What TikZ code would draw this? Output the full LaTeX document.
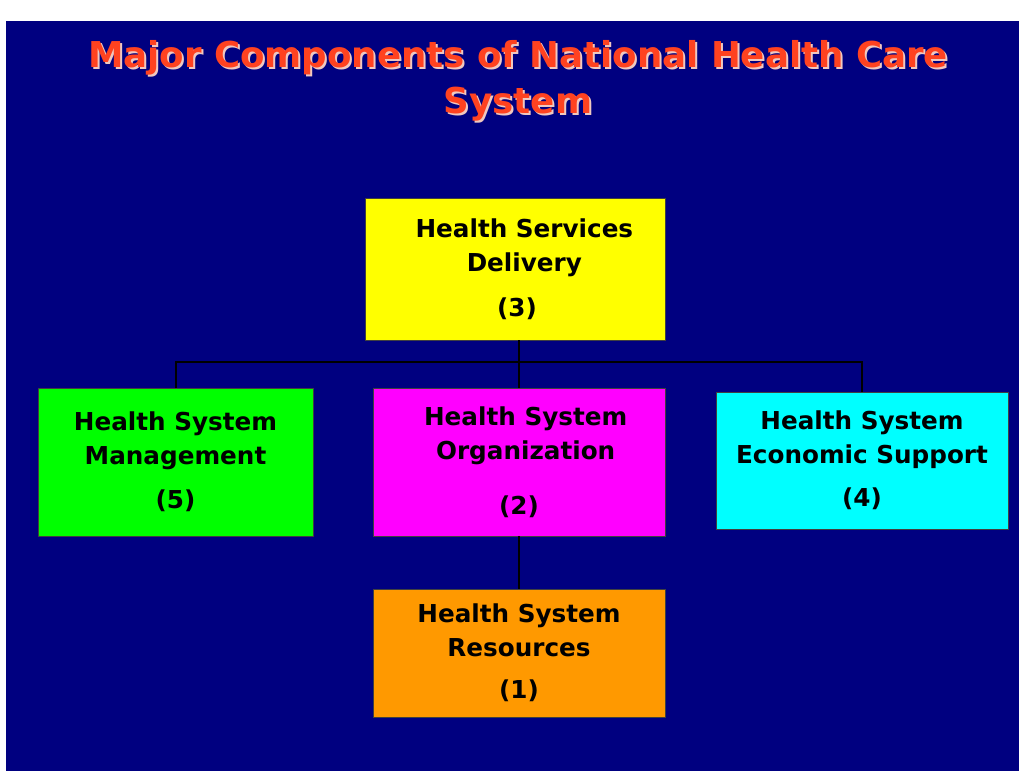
\documentclass[tikz,border=0pt]{standalone}
\usepackage{fontspec}
\setmainfont{DejaVu Sans}
\usepackage{xcolor}
\usepackage{tikz}
\usetikzlibrary{calc}
\definecolor{slidebg}{HTML}{000080}
\definecolor{titlered}{HTML}{FF4220}
\definecolor{titleshade}{HTML}{F0C8C0}
\definecolor{boxyellow}{HTML}{FFFF00}
\definecolor{boxgreen}{HTML}{00FF00}
\definecolor{boxmagenta}{HTML}{FF00FF}
\definecolor{boxcyan}{HTML}{00FFFF}
\definecolor{boxorange}{HTML}{FF9900}

\begin{document}
\begin{tikzpicture}[x=0.75pt,y=-0.75pt,
    comp/.style={draw=black!75,line width=0.6pt,inner sep=0pt,outer sep=0pt,align=center,
      text=black,font=\fontsize{18.5}{25.5}\selectfont\bfseries},
    heading/.style={align=center,font=\fontsize{26.7}{34.5}\selectfont\bfseries},
    link/.style={draw=black,line width=1.5pt}]
  \useasboundingbox (0,0) rectangle (1019,771);
  \fill[slidebg] (6,21) rectangle (1019,771);
  % title with its pale shadow
  \node[heading,text=titleshade] (titleshadow) at (520,83) {Major Components of National Health Care\\System};
  \node[heading,text=titlered] (title) at (518,81) {Major Components of National Health Care\\System};
  % the five components
  \node[comp,fill=boxyellow,minimum width=225pt,minimum height=106.5pt] (hsd) at (515,269)
    {\hspace*{14pt}Health Services\\\hspace*{14pt}Delivery\\[8pt]\hspace*{3pt}(3)};
  \node[comp,fill=boxgreen,minimum width=206.25pt,minimum height=111pt] (hsm) at (175.5,462)
    {Health System\\Management\\[7.5pt](5)};
  \node[comp,fill=boxmagenta,minimum width=219pt,minimum height=111pt] (hso) at (519,462)
    {\hspace*{10pt}Health System\\\hspace*{10pt}Organization\\[15.75pt](2)};
  \node[comp,fill=boxcyan,minimum width=219pt,minimum height=102.75pt] (hses) at (862,460.5)
    {Health System\\Economic Support\\[6.75pt](4)};
  \node[comp,fill=boxorange,minimum width=219pt,minimum height=96pt] (hsr) at (519,653)
    {Health System\\Resources\\[6pt](1)};
  % connectors
  \draw[link] (hso.north |- hsd.south) -- (hso.north);
  \draw[link] (hsm.north) -- ++(0,-26) -| (hses.north);
  \draw[link] (hso.south) -- (hsr.north);
\end{tikzpicture}
\end{document}
